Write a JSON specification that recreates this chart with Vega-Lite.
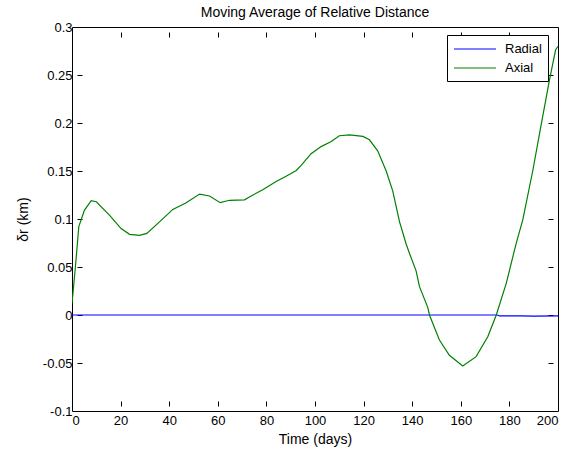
{
  "$schema": "https://vega.github.io/schema/vega-lite/v6.json",
  "autosize": "none",
  "width": 486,
  "height": 384,
  "padding": {"left": 72, "top": 27, "right": 13, "bottom": 41},
  "background": "white",
  "title": {"text": "Moving Average of Relative Distance", "font": "Liberation Sans", "fontSize": 14, "fontWeight": "normal", "color": "black", "offset": 1},
  "config": {
    "view": {"stroke": "black", "strokeWidth": 1},
    "axis": {"labelFont": "Liberation Sans", "labelFontSize": 13, "labelColor": "black", "titleFont": "Liberation Sans", "titleFontSize": 14, "titleFontWeight": "normal", "titleColor": "black", "grid": false, "domain": false, "ticks": true, "tickColor": "black", "tickOpacity": 1, "tickWidth": 1, "tickSize": 5, "offset": -10, "zindex": 1}
  },
  "data": {"values": [
    {"day": 0, "value": 0, "series": "Radial"},
    {"day": 137, "value": 0, "series": "Radial"},
    {"day": 175, "value": 0, "series": "Radial"},
    {"day": 176, "value": -0.001, "series": "Radial"},
    {"day": 185, "value": -0.001, "series": "Radial"},
    {"day": 190, "value": -0.0012, "series": "Radial"},
    {"day": 200, "value": -0.001, "series": "Radial"},
    {"day": 0, "value": 0.012, "series": "Axial"},
    {"day": 1.4, "value": 0.05, "series": "Axial"},
    {"day": 2.8, "value": 0.092, "series": "Axial"},
    {"day": 5.1, "value": 0.109, "series": "Axial"},
    {"day": 7.9, "value": 0.119, "series": "Axial"},
    {"day": 10, "value": 0.118, "series": "Axial"},
    {"day": 15.4, "value": 0.104, "series": "Axial"},
    {"day": 20.2, "value": 0.09, "series": "Axial"},
    {"day": 23.7, "value": 0.084, "series": "Axial"},
    {"day": 27.8, "value": 0.083, "series": "Axial"},
    {"day": 30.8, "value": 0.085, "series": "Axial"},
    {"day": 36, "value": 0.097, "series": "Axial"},
    {"day": 41.5, "value": 0.11, "series": "Axial"},
    {"day": 47, "value": 0.117, "series": "Axial"},
    {"day": 52.5, "value": 0.126, "series": "Axial"},
    {"day": 56.6, "value": 0.124, "series": "Axial"},
    {"day": 61, "value": 0.117, "series": "Axial"},
    {"day": 64.8, "value": 0.1195, "series": "Axial"},
    {"day": 71, "value": 0.12, "series": "Axial"},
    {"day": 73, "value": 0.123, "series": "Axial"},
    {"day": 78.5, "value": 0.1305, "series": "Axial"},
    {"day": 84, "value": 0.139, "series": "Axial"},
    {"day": 88.1, "value": 0.1446, "series": "Axial"},
    {"day": 92.3, "value": 0.1505, "series": "Axial"},
    {"day": 94.3, "value": 0.1558, "series": "Axial"},
    {"day": 98.4, "value": 0.168, "series": "Axial"},
    {"day": 102.5, "value": 0.1754, "series": "Axial"},
    {"day": 106.7, "value": 0.1807, "series": "Axial"},
    {"day": 110, "value": 0.1867, "series": "Axial"},
    {"day": 114.2, "value": 0.1877, "series": "Axial"},
    {"day": 119.7, "value": 0.186, "series": "Axial"},
    {"day": 122.4, "value": 0.1825, "series": "Axial"},
    {"day": 125.8, "value": 0.171, "series": "Axial"},
    {"day": 129.3, "value": 0.15, "series": "Axial"},
    {"day": 132, "value": 0.129, "series": "Axial"},
    {"day": 134.8, "value": 0.097, "series": "Axial"},
    {"day": 137.5, "value": 0.074, "series": "Axial"},
    {"day": 138.9, "value": 0.064, "series": "Axial"},
    {"day": 141.6, "value": 0.046, "series": "Axial"},
    {"day": 143, "value": 0.0295, "series": "Axial"},
    {"day": 146.4, "value": 0.008, "series": "Axial"},
    {"day": 147.1, "value": 0.0, "series": "Axial"},
    {"day": 151.2, "value": -0.026, "series": "Axial"},
    {"day": 155.3, "value": -0.042, "series": "Axial"},
    {"day": 160.8, "value": -0.053, "series": "Axial"},
    {"day": 166.3, "value": -0.0434, "series": "Axial"},
    {"day": 171.1, "value": -0.0226, "series": "Axial"},
    {"day": 174.6, "value": 0, "series": "Axial"},
    {"day": 178.7, "value": 0.033, "series": "Axial"},
    {"day": 182.8, "value": 0.0747, "series": "Axial"},
    {"day": 185.5, "value": 0.099, "series": "Axial"},
    {"day": 189.6, "value": 0.15, "series": "Axial"},
    {"day": 193.1, "value": 0.1986, "series": "Axial"},
    {"day": 196.5, "value": 0.245, "series": "Axial"},
    {"day": 199, "value": 0.276, "series": "Axial"},
    {"day": 200, "value": 0.28, "series": "Axial"}
  ]},
  "layer": [
    {
      "mark": {"type": "line", "strokeWidth": 1.2, "clip": true},
      "encoding": {
        "x": {"field": "day", "type": "quantitative", "scale": {"domain": [0, 200], "nice": false}, "axis": {"title": "Time (days)", "values": [0,20,40,60,80,100,120,140,160,180,200], "labelPadding": 8, "titlePadding": 5}},
        "y": {"field": "value", "type": "quantitative", "scale": {"domain": [-0.1, 0.3], "nice": false, "zero": false}, "axis": {"title": "δr (km)", "values": [-0.1,-0.05,0,0.05,0.1,0.15,0.2,0.25,0.3], "labelExpr": "datum.value + ''", "labelPadding": 5, "titlePadding": 12}},
        "color": {"field": "series", "type": "nominal", "sort": ["Radial", "Axial"], "scale": {"domain": ["Radial", "Axial"], "range": ["#0000ff", "#008000"]},
          "legend": {"title": null, "orient": "none", "legendX": 375, "legendY": 8, "symbolType": "M-1,0H5", "symbolSize": 196, "symbolStrokeWidth": 1.2, "symbolFillColor": "transparent", "labelFont": "Liberation Sans", "labelFontSize": 13, "labelColor": "black", "strokeColor": "black", "fillColor": "white", "padding": 6, "rowPadding": 4, "labelOffset": 36}}
      }
    },
    {
      "mark": {"type": "rule", "opacity": 0},
      "encoding": {
        "x": {"field": "day", "type": "quantitative", "scale": {"domain": [0, 200], "nice": false}, "axis": {"orient": "top", "title": null, "labels": false, "values": [0,20,40,60,80,100,120,140,160,180,200]}},
        "y": {"field": "value", "type": "quantitative", "scale": {"domain": [-0.1, 0.3], "nice": false, "zero": false}, "axis": {"orient": "right", "title": null, "labels": false, "values": [-0.1,-0.05,0,0.05,0.1,0.15,0.2,0.25,0.3]}}
      }
    }
  ],
  "resolve": {"axis": {"x": "independent", "y": "independent"}}
}
